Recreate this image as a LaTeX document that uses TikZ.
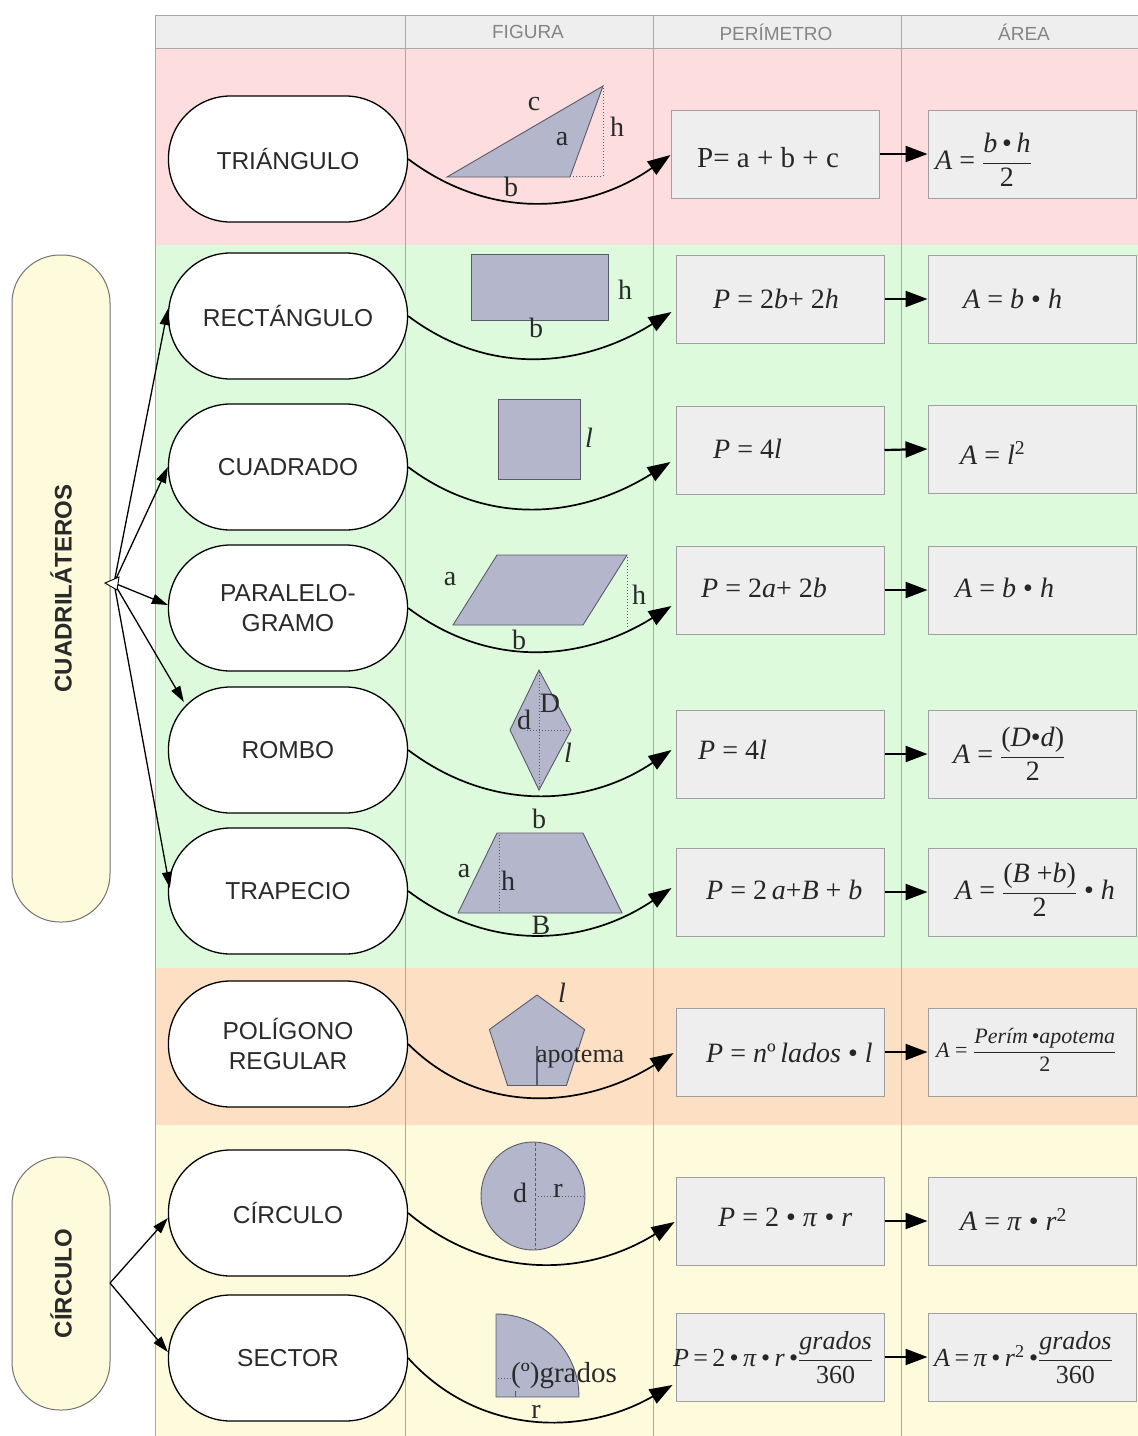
\documentclass[tikz,border=0pt]{standalone}
\usepackage{fontspec}
\usepackage{amsmath}
\setmainfont{Liberation Serif}
\setsansfont{Liberation Sans}
\usetikzlibrary{arrows.meta,calc}

\definecolor{bandTri}{HTML}{FDDDDD}
\definecolor{bandQuad}{HTML}{DDFADD}
\definecolor{bandPoly}{HTML}{FDDFC4}
\definecolor{bandCirc}{HTML}{FEFBDD}
\definecolor{headFill}{HTML}{EEEEEE}
\definecolor{gridLine}{HTML}{A8A8A8}
\definecolor{boxFill}{HTML}{EEEEEE}
\definecolor{boxLine}{HTML}{A0A0A0}
\definecolor{shapeFill}{HTML}{B4B6CC}
\definecolor{shapeLine}{HTML}{5A5A6A}
\definecolor{labelText}{HTML}{2A2A2A}
\definecolor{groupFill}{HTML}{FEFBDC}
\definecolor{headText}{HTML}{858585}

\newcommand\iv[1]{\textit{#1}}
\newcommand\fracx[2]{$\dfrac{\text{#1}}{\text{#2}}$}
\newcommand\dotop{\,•\,}

\begin{document}
\begin{tikzpicture}[x=1pt,y=1pt,
  kind/.style={draw=black, line width=1.3pt, fill=white, rounded corners=62pt,
    minimum width=239pt, minimum height=126pt, align=center,
    font=\sffamily\fontsize{24.5}{30}\selectfont, text=labelText, inner sep=0pt},
  group/.style={draw=black!55, line width=1pt, fill=groupFill, rounded corners=48pt,
    minimum height=98pt, rotate=90, font=\sffamily\bfseries\fontsize{24}{28}\selectfont,
    text=labelText, inner sep=0pt},
  formbox/.style={draw=boxLine, fill=boxFill, line width=1pt,
    minimum width=208pt, minimum height=88pt, inner sep=0pt},
  formula/.style={anchor=west, inner sep=0pt, text=black!85,
    font=\fontsize{28}{30}\selectfont},
  head/.style={text=headText, font=\sffamily\fontsize{19}{22}\selectfont},
  shp/.style={fill=shapeFill, draw=shapeLine, line width=0.9pt},
  guide/.style={draw=shapeLine, line width=1pt, dotted},
  lbl/.style={text=labelText, inner sep=0pt, font=\fontsize{28}{30}\selectfont},
  flow/.style={line width=1.7pt, -{Triangle[length=23pt,width=16pt]}},
  pa/.style={line width=2.2pt, -{Triangle[length=22pt,width=16pt]}},
  link/.style={line width=1.3pt, -{Triangle[length=16pt,width=10pt]}}
]
\useasboundingbox (0,0) rectangle (1138,-1436);
\fill[white] (0,0) rectangle (1138,-1436);

% row bands and header
\fill[headFill] (155,-15) rectangle (1138,-48);
\fill[bandTri]  (155,-48) rectangle (1138,-245);
\fill[bandQuad] (155,-245) rectangle (1138,-968);
\fill[bandPoly] (155,-968) rectangle (1138,-1125);
\fill[bandCirc] (155,-1125) rectangle (1138,-1436);
\draw[gridLine, line width=1pt] (155,-15) -- (1138,-15);
\draw[gridLine, line width=1pt] (155,-48) -- (1138,-48);
\foreach \cx in {155,405,653,901}
  \draw[gridLine, line width=1pt] (\cx,-15) -- (\cx,-1436);
\node[head] (hfig) at (528,-32) {FIGURA};
\node[head] (hper) at (776,-32) {PERÍMETRO};
\node[head] (hare) at (1024,-32) {ÁREA};

% group nodes
\node[group, minimum width=667pt] (quad) at (61,-588.5) {CUADRILÁTEROS};
\node[group, minimum width=253pt] (circg) at (61,-1283.5) {CÍRCULO};

% figure kinds
\node[kind] (tri)   at (288,-159)  {TRIÁNGULO};
\node[kind] (rect)  at (288,-316)  {RECTÁNGULO};
\node[kind] (cuad)  at (288,-467)  {CUADRADO};
\node[kind] (paral) at (288,-608)  {PARALELO-\\GRAMO};
\node[kind] (rombo) at (288,-750)  {ROMBO};
\node[kind] (trap)  at (288,-891)  {TRAPECIO};
\node[kind] (poly)  at (288,-1044) {POLÍGONO\\REGULAR};
\node[kind] (circ)  at (288,-1213) {CÍRCULO};
\node[kind] (sect)  at (288,-1358) {SECTOR};

% perimeter and area boxes
\node[formbox] (triP)   at (775,-154)  {};
\node[formbox] (triA)   at (1032,-154) {};
\node[formbox] (rectP)  at (780,-299)  {};
\node[formbox] (rectA)  at (1032,-299) {};
\node[formbox] (cuadP)  at (780,-450)  {};
\node[formbox] (cuadA)  at (1032,-449) {};
\node[formbox] (paralP) at (780,-590)  {};
\node[formbox] (paralA) at (1032,-590) {};
\node[formbox] (romboP) at (780,-754)  {};
\node[formbox] (romboA) at (1032,-754) {};
\node[formbox] (trapP)  at (780,-892)  {};
\node[formbox] (trapA)  at (1032,-892) {};
\node[formbox] (polyP)  at (780,-1052) {};
\node[formbox] (polyA)  at (1032,-1052){};
\node[formbox] (circP)  at (780,-1221) {};
\node[formbox] (circA)  at (1032,-1221){};
\node[formbox] (sectP)  at (780,-1357) {};
\node[formbox] (sectA)  at (1032,-1357){};

% formulas
\node[formula, font=\fontsize{29}{30}\selectfont] (fTriP) at (697,-158) {P= a + b + c};
\node[formula] (fTriA) at (935,-160) {\iv{A} = \fracx{\iv{b}\,•\,\iv{h}}{2}};
\node[formula] (fRectP) at (713,-299) {\iv{P} = 2\iv{b}+ 2\iv{h}};
\node[formula] (fRectA) at (963,-299) {\iv{A} = \iv{b} • \iv{h}};
\node[formula] (fCuadP) at (713,-449) {\iv{P} = 4\iv{l}};
\node[formula] (fCuadA) at (960,-453) {\iv{A} = \iv{l}\textsuperscript{2}};
\node[formula] (fParalP) at (701,-588) {\iv{P} = 2\iv{a}+ 2\iv{b}};
\node[formula] (fParalA) at (955,-588) {\iv{A} = \iv{b} • \iv{h}};
\node[formula] (fRomboP) at (698,-750) {\iv{P} = 4\iv{l}};
\node[formula] (fRomboA) at (953,-754) {\iv{A} = \fracx{(\iv{D}•\iv{d})}{2}};
\node[formula] (fTrapP) at (706,-890) {\iv{P} = 2\,\iv{a}+\iv{B} + \iv{b}};
\node[formula] (fTrapA) at (955,-890) {\iv{A} = \fracx{(\iv{B} +\iv{b})}{2} • \iv{h}};
\node[formula] (fPolyP) at (706,-1053) {\iv{P} = \iv{n}º\,\iv{lados} • \iv{l}};
\node[formula, font=\fontsize{22}{24}\selectfont] (fPolyA) at (936,-1050)
  {\iv{A} = \fracx{\iv{Perím}\,•\iv{apotema}}{2}};
\node[formula] (fCircP) at (718,-1217) {\iv{P} = 2 • \iv{π} • \iv{r}};
\node[formula] (fCircA) at (960,-1220) {\iv{A} = \iv{π} • \iv{r}\textsuperscript{2}};
\node[formula, font=\fontsize{26}{28}\selectfont] (fSectP) at (673,-1358)
  {\iv{P}\,=\,2\dotop\iv{π}\dotop\iv{r}\,•\fracx{\iv{grados}}{360}};
\node[formula, font=\fontsize{26}{28}\selectfont] (fSectA) at (934,-1358)
  {\iv{A}\,=\,\iv{π}\dotop\iv{r}\textsuperscript{2}\,•\fracx{\iv{grados}}{360}};

% triangle
\filldraw[shp] (447,-177) -- (603,-86) -- (570,-177) -- cycle;
\draw[guide] (603,-88) -- (603,-176) -- (572,-176);
\node[lbl] (tc) at (534,-104) {c};
\node[lbl] (ta) at (562,-139) {a};
\node[lbl] (th) at (617,-127) {h};
\node[lbl] (tb) at (511,-187) {b};

% rectangle
\filldraw[shp] (471,-254) rectangle (608,-320);
\node[lbl] (rh) at (625,-290) {h};
\node[lbl] (rb) at (536,-328) {b};

% square
\filldraw[shp] (498,-399) rectangle (580,-479);
\node[lbl] (sl) at (589,-438) {\iv{l}};

% parallelogram
\filldraw[shp] (453,-625) -- (497,-555) -- (627,-555) -- (583,-625) -- cycle;
\draw[guide] (627,-557) -- (627,-627);
\node[lbl] (pa) at (450,-579) {a};
\node[lbl] (ph) at (639,-595) {h};
\node[lbl] (pb) at (519,-640) {b};

% rhombus
\filldraw[shp] (539,-670) -- (571,-730) -- (539,-790) -- (510,-730) -- cycle;
\draw[guide] (539,-672) -- (539,-788);
\draw[guide] (527,-730) -- (569,-730);
\node[lbl] (rD) at (550,-703) {D};
\node[lbl] (rd) at (524,-720) {d};
\node[lbl] (rl) at (568,-753) {\iv{l}};

% trapezoid
\filldraw[shp] (458,-913) -- (497,-833) -- (583,-833) -- (622,-913) -- cycle;
\draw[guide] (499,-835) -- (499,-913);
\node[lbl] (zb) at (539,-819) {b};
\node[lbl] (za) at (464,-871) {a};
\node[lbl] (zh) at (508,-881) {h};
\node[lbl] (zB) at (541,-925) {B};

% regular pentagon
\filldraw[shp] (537,-995) -- (584.6,-1029.5) -- (566.4,-1085.5) -- (507.6,-1085.5)
  -- (489.4,-1029.5) -- cycle;
\draw[shapeLine, line width=1.2pt] (537,-1046) -- (537,-1085);
\node[lbl] (gl) at (562,-993) {\iv{l}};
\node[lbl, anchor=west, font=\fontsize{26}{28}\selectfont] (gap) at (536,-1058) {apotema};

% circle
\filldraw[shp] (533,-1196) ellipse [x radius=52, y radius=54];
\draw[shapeLine, line width=0.8pt, dashed, dash pattern=on 3pt off 2pt] (535,-1143) -- (535,-1249);
\draw[guide] (538,-1196) -- (584,-1196);
\node[lbl] (cd) at (520,-1193) {d};
\node[lbl] (cr) at (558,-1191) {r};

% sector
\filldraw[shp] (496,-1397) -- (496,-1314) arc[start angle=90, end angle=0, radius=83] -- cycle;
\draw[guide] (498,-1378) -- (512,-1378);
\draw[shapeLine, line width=1pt] (515,-1391) -- (515,-1397);
\node[lbl, anchor=west, font=\fontsize{29}{30}\selectfont] (sg) at (511,-1376) {(º)grados};
\node[lbl] (sr) at (536,-1412) {r};

% curved connectors from each kind to its perimeter
\draw[flow] (tri.east)   to[out=-37,in=215] ([yshift=-1pt]triP.west);
\draw[flow] (rect.east)  to[out=-37,in=212] ([xshift=-4pt,yshift=-13pt]rectP.west);
\draw[flow] (cuad.east)  to[out=-37,in=212] ([xshift=-5pt,yshift=-12pt]cuadP.west);
\draw[flow] (paral.east) to[out=-37,in=212] ([xshift=-4pt,yshift=-16pt]paralP.west);
\draw[flow] (rombo.east) to[out=-37,in=214] ([xshift=-4pt,yshift=4pt]romboP.west);
\draw[flow] (trap.east)  to[out=-37,in=214] ([xshift=-4pt,yshift=4pt]trapP.west);
\draw[flow] (poly.east)  to[out=-45,in=212] ([xshift=-2pt,yshift=-1pt]polyP.west);
\draw[flow] (circ.east)  to[out=-40,in=212] ([xshift=-1pt,yshift=-1pt]circP.west);
\draw[flow] (sect.east)  to[out=-48,in=210] ([xshift=-3pt,yshift=-28pt]sectP.west);

% perimeter to area
\foreach \r in {tri,rect,cuad,paral,rombo,trap,poly,circ,sect}
  \draw[pa] (\r P.east) -- (\r A.west);

% group connectors
\coordinate (qo) at (114,-583);
\draw[link] (qo) -- ([yshift=7pt]rect.west);
\draw[link] (qo) -- (cuad.west);
\draw[link] (qo) -- ([yshift=3pt]paral.west);
\draw[link] (qo) -- ([shift={(16,48)}]rombo.west);
\draw[link] (qo) -- ([xshift=2pt,yshift=3pt]trap.west);
\filldraw[draw=black, line width=0.9pt, fill=white] (105,-583) -- (119,-577) -- (117,-590) -- cycle;
\coordinate (co) at (110,-1283);
\draw[link] (co) -- ([yshift=-5pt]circ.west);
\draw[link] (co) -- ([yshift=6pt]sect.west);
\end{tikzpicture}
\end{document}
